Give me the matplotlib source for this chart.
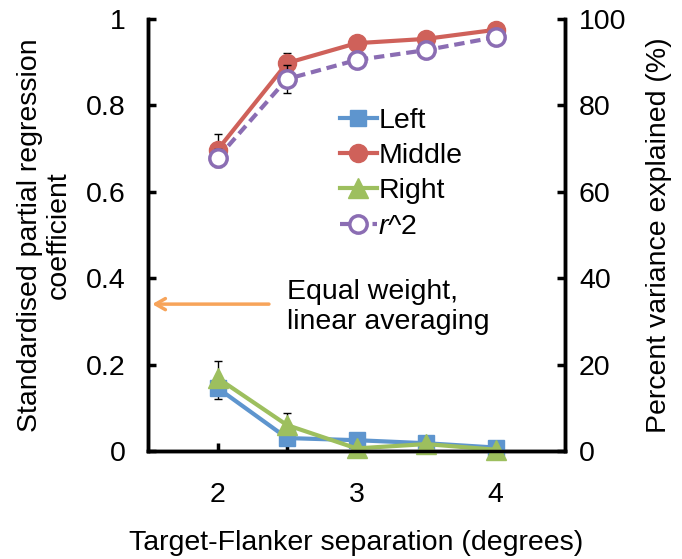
import numpy as np
import matplotlib
matplotlib.use("Agg")
import matplotlib.pyplot as plt

plt.rcParams['font.family'] = ['Liberation Sans', 'DejaVu Sans']
plt.rcParams['mathtext.fontset'] = 'custom'
plt.rcParams['mathtext.it'] = 'Liberation Sans:italic'
plt.rcParams['mathtext.rm'] = 'Liberation Sans'

# values
separation = [2.0, 2.5, 3.0, 3.5, 4.0]
left = [0.146, 0.030, 0.025, 0.018, 0.008]
left_err = [0.026, 0.010, 0.008, 0.006, 0.004]
middle = [0.697, 0.898, 0.944, 0.954, 0.975]
middle_err = [0.036, 0.023, 0.010, 0.008, 0.006]
right = [0.169, 0.060, 0.006, 0.016, 0.003]
right_err = [0.040, 0.028, 0.006, 0.006, 0.004]
r2_pct = [67.8, 86.1, 90.5, 92.8, 95.8]
r2_err = [2.1, 3.2, 1.0, 0.8, 0.6]

blue = '#5E95CE'
red = '#CF615A'
green = '#9DBF5E'
purple = '#8B6DB3'
orange = '#F7A45A'

fs = 20.5
fig = plt.figure(figsize=(6.82, 5.59), dpi=100)
ax = fig.add_axes([148 / 682, 108 / 559, 417 / 682, 432 / 559])
ax2 = ax.twinx()

ax.errorbar(separation, left, yerr=left_err, fmt='none', ecolor='black', elinewidth=1, capsize=3, zorder=2)
ax.errorbar(separation, middle, yerr=middle_err, fmt='none', ecolor='black', elinewidth=1, capsize=3, zorder=2)
ax.errorbar(separation, right, yerr=right_err, fmt='none', ecolor='black', elinewidth=1, capsize=3, zorder=2)

l1, = ax.plot(separation, left, color=blue, lw=3, marker='s', ms=12, label='Left', clip_on=False, zorder=3)
l2, = ax.plot(separation, middle, color=red, lw=3, marker='o', ms=13, label='Middle', clip_on=False, zorder=3)
l3, = ax.plot(separation, right, color=green, lw=3, marker='^', ms=14, label='Right', clip_on=False, zorder=4)

ax2.errorbar(separation, r2_pct, yerr=r2_err, fmt='none', ecolor='black', elinewidth=1, capsize=3, zorder=2)
l4, = ax2.plot(separation, r2_pct, color=purple, lw=3, ls=(0, (2.5, 1.4)), marker='o', ms=12.5,
               mfc='white', mec=purple, mew=2.5, label=r'$\mathit{r}$^2', clip_on=False, zorder=3)

ax.set_xlim(1.5, 4.5)
ax.set_ylim(0, 1)
ax2.set_ylim(0, 100)
ax.set_xticks([2, 2.5, 3, 3.5, 4])
ax.set_xticklabels(['2', '', '3', '', '4'])
ax.set_yticks([0, 0.2, 0.4, 0.6, 0.8, 1.0])
ax.set_yticklabels(['0', '0.2', '0.4', '0.6', '0.8', '1'])
ax2.set_yticks([0, 20, 40, 60, 80, 100])

for a in (ax, ax2):
    a.spines['top'].set_visible(False)
    for s in ('left', 'right', 'bottom'):
        a.spines[s].set_linewidth(2.5)
    a.tick_params(direction='in', length=6, width=2.5, labelsize=fs)
ax.tick_params(axis='x', pad=22)
ax.tick_params(axis='y', pad=16)
ax2.tick_params(axis='y', pad=10)

ax.set_xlabel('Target-Flanker separation (degrees)', fontsize=fs, labelpad=16)
ax.set_ylabel('Standardised partial regression\ncoefficient', fontsize=fs, labelpad=10, linespacing=1.15)
ax2.set_ylabel('Percent variance explained (%)', fontsize=fs, labelpad=14)

ax.annotate('', xy=(1.51, 0.34), xytext=(2.39, 0.34),
            arrowprops=dict(arrowstyle='->,head_length=0.7,head_width=0.4', color=orange, lw=2.5))
ax.text(2.5, 0.333, 'Equal weight,\nlinear averaging', fontsize=fs, va='center', ha='left', linespacing=1.2)

leg = ax2.legend(handles=[l1, l2, l3, l4], loc='upper left', bbox_to_anchor=(0.46, 0.795),
                 frameon=False, fontsize=fs, handlelength=1.3, handletextpad=0.05,
                 labelspacing=0.33, borderaxespad=0, borderpad=0)

fig.savefig('out.png', dpi=100)
